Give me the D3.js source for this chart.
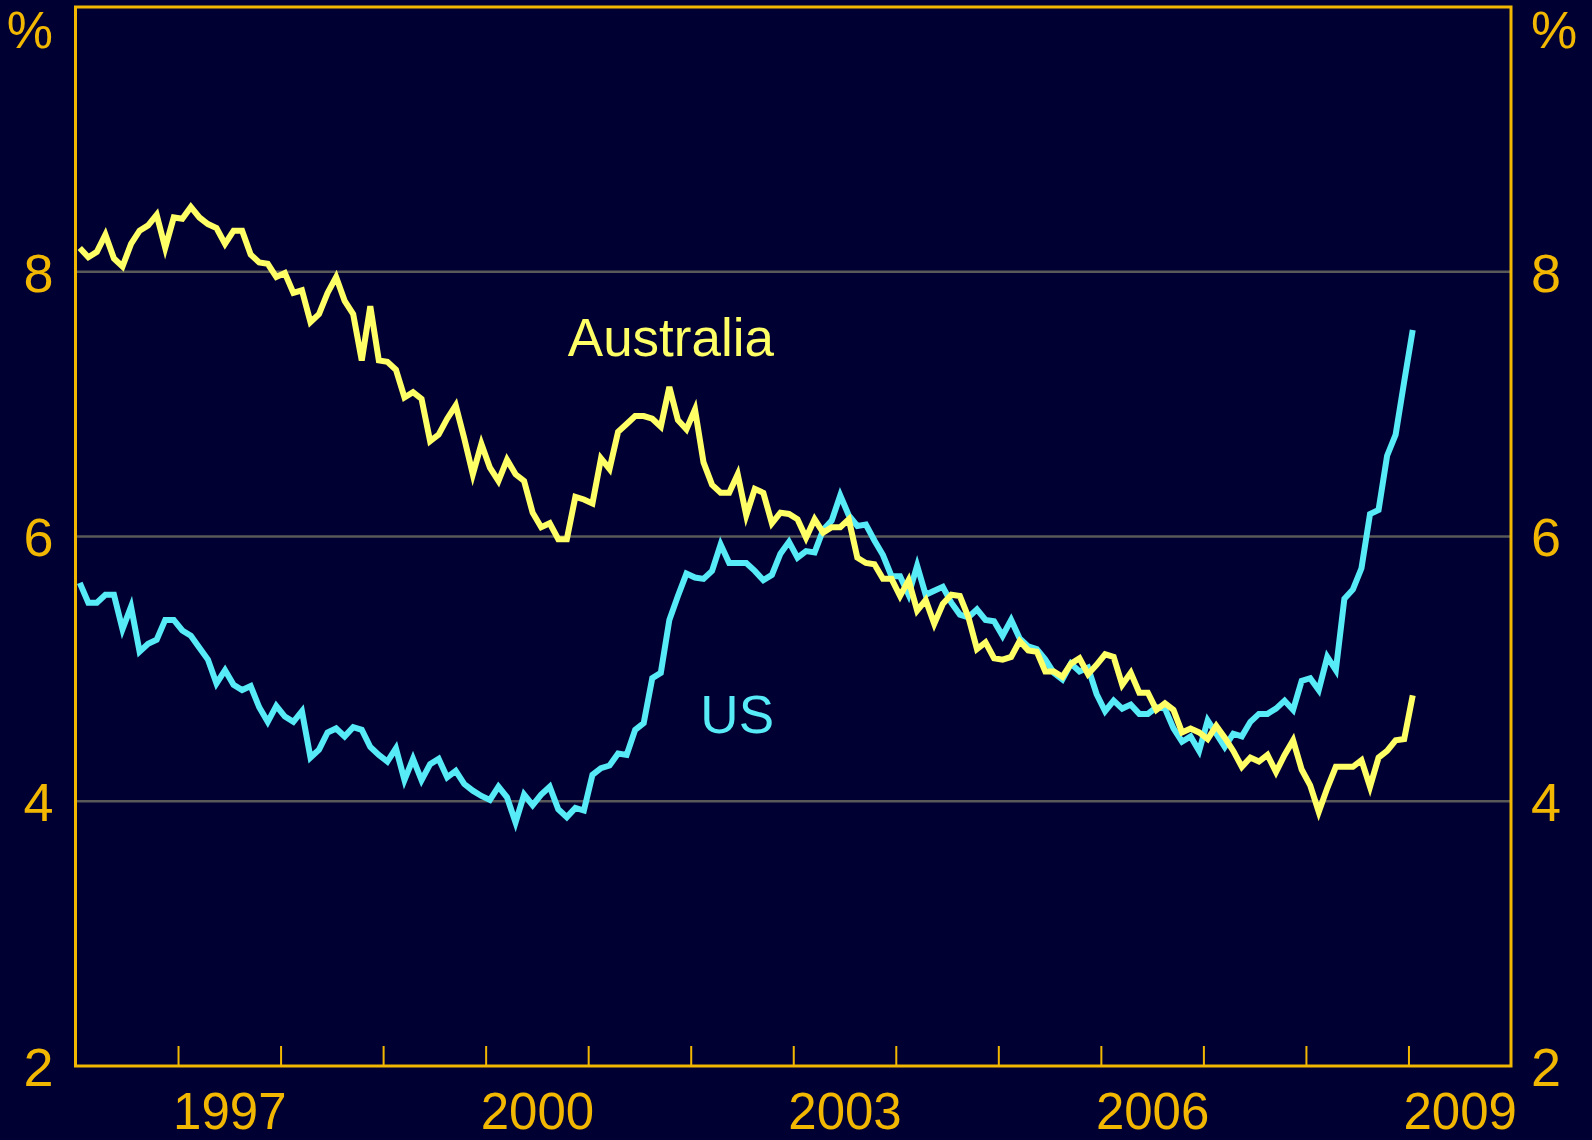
<!DOCTYPE html>
<html>
<head>
<meta charset="utf-8">
<script src="https://cdn.jsdelivr.net/npm/d3@7/dist/d3.min.js"></script>
<style>
  html, body { margin: 0; padding: 0; background: #000033; }
  svg { display: block; }
  text { font-family: "Liberation Sans", Arial, sans-serif; }
</style>
</head>
<body>
<svg id="chart" width="1592" height="1140"></svg>
<script>
// monthly unemployment rates, Jan 1996 .. Jan 2009
var firstYear = 1996;

var australia = [
    8.18, 8.11, 8.15, 8.28, 8.10, 8.04, 8.21, 8.31, 8.35, 8.43, 8.18, 8.41,
    8.40, 8.49, 8.41, 8.36, 8.33, 8.21, 8.31, 8.31, 8.13, 8.07, 8.06, 7.96,
    7.99, 7.84, 7.86, 7.62, 7.68, 7.84, 7.96, 7.78, 7.68, 7.33, 7.74, 7.33,
    7.32, 7.26, 7.05, 7.09, 7.04, 6.72, 6.77, 6.89, 6.99, 6.74, 6.47, 6.70,
    6.52, 6.42, 6.58, 6.47, 6.42, 6.18, 6.07, 6.10, 5.98, 5.98, 6.30, 6.28,
    6.25, 6.59, 6.51, 6.79, 6.85, 6.91, 6.91, 6.89, 6.83, 7.13, 6.88, 6.81,
    6.96, 6.56, 6.39, 6.33, 6.33, 6.47, 6.16, 6.36, 6.33, 6.10, 6.18, 6.17,
    6.13, 5.99, 6.13, 6.03, 6.07, 6.07, 6.13, 5.84, 5.80, 5.79, 5.68, 5.68,
    5.55, 5.67, 5.44, 5.52, 5.34, 5.49, 5.56, 5.55, 5.39, 5.15, 5.20, 5.08,
    5.07, 5.09, 5.21, 5.14, 5.13, 4.98, 4.98, 4.94, 5.04, 5.08, 4.96, 5.03,
    5.11, 5.09, 4.88, 4.97, 4.82, 4.82, 4.69, 4.74, 4.69, 4.52, 4.55, 4.52,
    4.47, 4.57, 4.48, 4.38, 4.26, 4.33, 4.30, 4.35, 4.22, 4.35, 4.46, 4.24,
    4.12, 3.92, 4.10, 4.26, 4.26, 4.26, 4.31, 4.11, 4.33, 4.38, 4.46, 4.47,
    4.80
];

var us = [
    5.65, 5.50, 5.50, 5.56, 5.56, 5.30, 5.47, 5.13, 5.19, 5.22, 5.37, 5.37,
    5.29, 5.25, 5.16, 5.07, 4.89, 4.99, 4.88, 4.84, 4.87, 4.71, 4.60, 4.72,
    4.64, 4.60, 4.68, 4.33, 4.39, 4.52, 4.55, 4.49, 4.56, 4.54, 4.41, 4.35,
    4.30, 4.40, 4.16, 4.32, 4.16, 4.28, 4.32, 4.18, 4.23, 4.13, 4.08, 4.04,
    4.01, 4.11, 4.03, 3.84, 4.05, 3.97, 4.05, 4.11, 3.94, 3.88, 3.95, 3.93,
    4.20, 4.25, 4.27, 4.36, 4.35, 4.54, 4.59, 4.93, 4.97, 5.37, 5.55, 5.72,
    5.69, 5.68, 5.74, 5.94, 5.80, 5.80, 5.80, 5.74, 5.67, 5.71, 5.87, 5.96,
    5.84, 5.89, 5.88, 6.05, 6.12, 6.31, 6.16, 6.08, 6.09, 5.97, 5.86, 5.70,
    5.70, 5.56, 5.78, 5.56, 5.59, 5.62, 5.50, 5.41, 5.39, 5.45, 5.37, 5.36,
    5.25, 5.37, 5.23, 5.17, 5.15, 5.07, 4.97, 4.92, 5.04, 4.98, 5.01, 4.81,
    4.68, 4.76, 4.70, 4.73, 4.66, 4.66, 4.71, 4.70, 4.55, 4.45, 4.49, 4.38,
    4.61, 4.51, 4.41, 4.51, 4.49, 4.60, 4.66, 4.66, 4.70, 4.76, 4.69, 4.91,
    4.93, 4.84, 5.09, 4.99, 5.53, 5.60, 5.76, 6.17, 6.20, 6.61, 6.77, 7.17,
    7.56
];

var yTicks = [2, 4, 6, 8];
var gridTicks = [4, 6, 8];
var yearTicks = [1997, 1998, 1999, 2000, 2001, 2002, 2003, 2004, 2005, 2006, 2007, 2008, 2009];
var yearLabels = [1997, 2000, 2003, 2006, 2009];

(function () {
    var gold = '#F2B700',
        yellow = '#FFFF66',
        cyan = '#57EBF7',
        grey = '#595959';

    var left = 75.5, right = 1511, top = 7, bottom = 1066;

    var x = d3.scaleLinear()
        .domain([1996, 2010])
        .range([left, right]);

    var y = d3.scaleLinear()
        .domain([2, 10])
        .range([bottom, top]);

    var svg = d3.select('#chart');

    // gridlines
    svg.append('g')
        .selectAll('line')
        .data(gridTicks)
        .enter()
        .append('line')
        .attr('x1', left)
        .attr('x2', right)
        .attr('y1', function (d) { return y(d); })
        .attr('y2', function (d) { return y(d); })
        .style('stroke', grey)
        .style('stroke-width', 2.3);

    // series
    var line = d3.line()
        .x(function (d, i) { return x(firstYear + (i + 0.5) / 12); })
        .y(function (d) { return y(d); });

    svg.append('path')
        .datum(us)
        .attr('d', line)
        .style('fill', 'none')
        .style('stroke', cyan)
        .style('stroke-width', 6);

    svg.append('path')
        .datum(australia)
        .attr('d', line)
        .style('fill', 'none')
        .style('stroke', yellow)
        .style('stroke-width', 6);

    // frame
    svg.append('rect')
        .attr('x', left)
        .attr('y', top)
        .attr('width', right - left)
        .attr('height', bottom - top)
        .style('fill', 'none')
        .style('stroke', gold)
        .style('stroke-width', 3);

    // year ticks, pointing up into the plot
    var xTickAxis = d3.axisBottom(x)
        .tickValues(yearTicks)
        .tickSize(-20)
        .tickSizeOuter(0)
        .tickFormat('');

    var gx = svg.append('g')
        .attr('transform', 'translate(0,' + bottom + ')')
        .call(xTickAxis);
    gx.select('.domain').remove();
    gx.selectAll('.tick line')
        .style('stroke', gold)
        .style('stroke-width', 2);

    // year labels sit in the middle of each year
    var xLabelAxis = d3.axisBottom(x)
        .tickValues(yearLabels.map(function (d) { return d + 0.5; }))
        .tickSize(0)
        .tickPadding(0)
        .tickFormat(function (d) { return Math.floor(d); });

    var gxl = svg.append('g')
        .attr('transform', 'translate(0,' + bottom + ')')
        .call(xLabelAxis);
    gxl.select('.domain').remove();
    gxl.selectAll('.tick text')
        .attr('y', 63)
        .attr('dy', 0)
        .style('fill', gold)
        .style('font-size', '51px')
        .style('font-family', '"Liberation Sans", Arial, sans-serif');

    // value axes on both sides
    function styleY(g) {
        g.select('.domain').remove();
        g.selectAll('.tick line').remove();
        g.selectAll('.tick text')
            .attr('dy', '0.36em')
            .style('fill', gold)
            .style('font-size', '54px')
            .style('font-family', '"Liberation Sans", Arial, sans-serif');
    }

    svg.append('g')
        .attr('transform', 'translate(' + left + ',0)')
        .call(d3.axisLeft(y).tickValues(yTicks).tickSize(0).tickPadding(22))
        .call(styleY);

    svg.append('g')
        .attr('transform', 'translate(' + right + ',0)')
        .call(d3.axisRight(y).tickValues(yTicks).tickSize(0).tickPadding(20))
        .call(styleY);

    svg.append('text')
        .attr('x', 53)
        .attr('y', 48)
        .attr('text-anchor', 'end')
        .style('fill', gold)
        .style('font-size', '52px')
        .text('%');

    svg.append('text')
        .attr('x', 1531)
        .attr('y', 48)
        .attr('text-anchor', 'start')
        .style('fill', gold)
        .style('font-size', '52px')
        .text('%');

    // series labels
    svg.append('text')
        .attr('x', 774)
        .attr('y', 356)
        .attr('text-anchor', 'end')
        .style('fill', yellow)
        .style('font-size', '53px')
        .text('Australia');

    svg.append('text')
        .attr('x', 774)
        .attr('y', 733)
        .attr('text-anchor', 'end')
        .style('fill', cyan)
        .style('font-size', '53px')
        .text('US');
}());
</script>
</body>
</html>
